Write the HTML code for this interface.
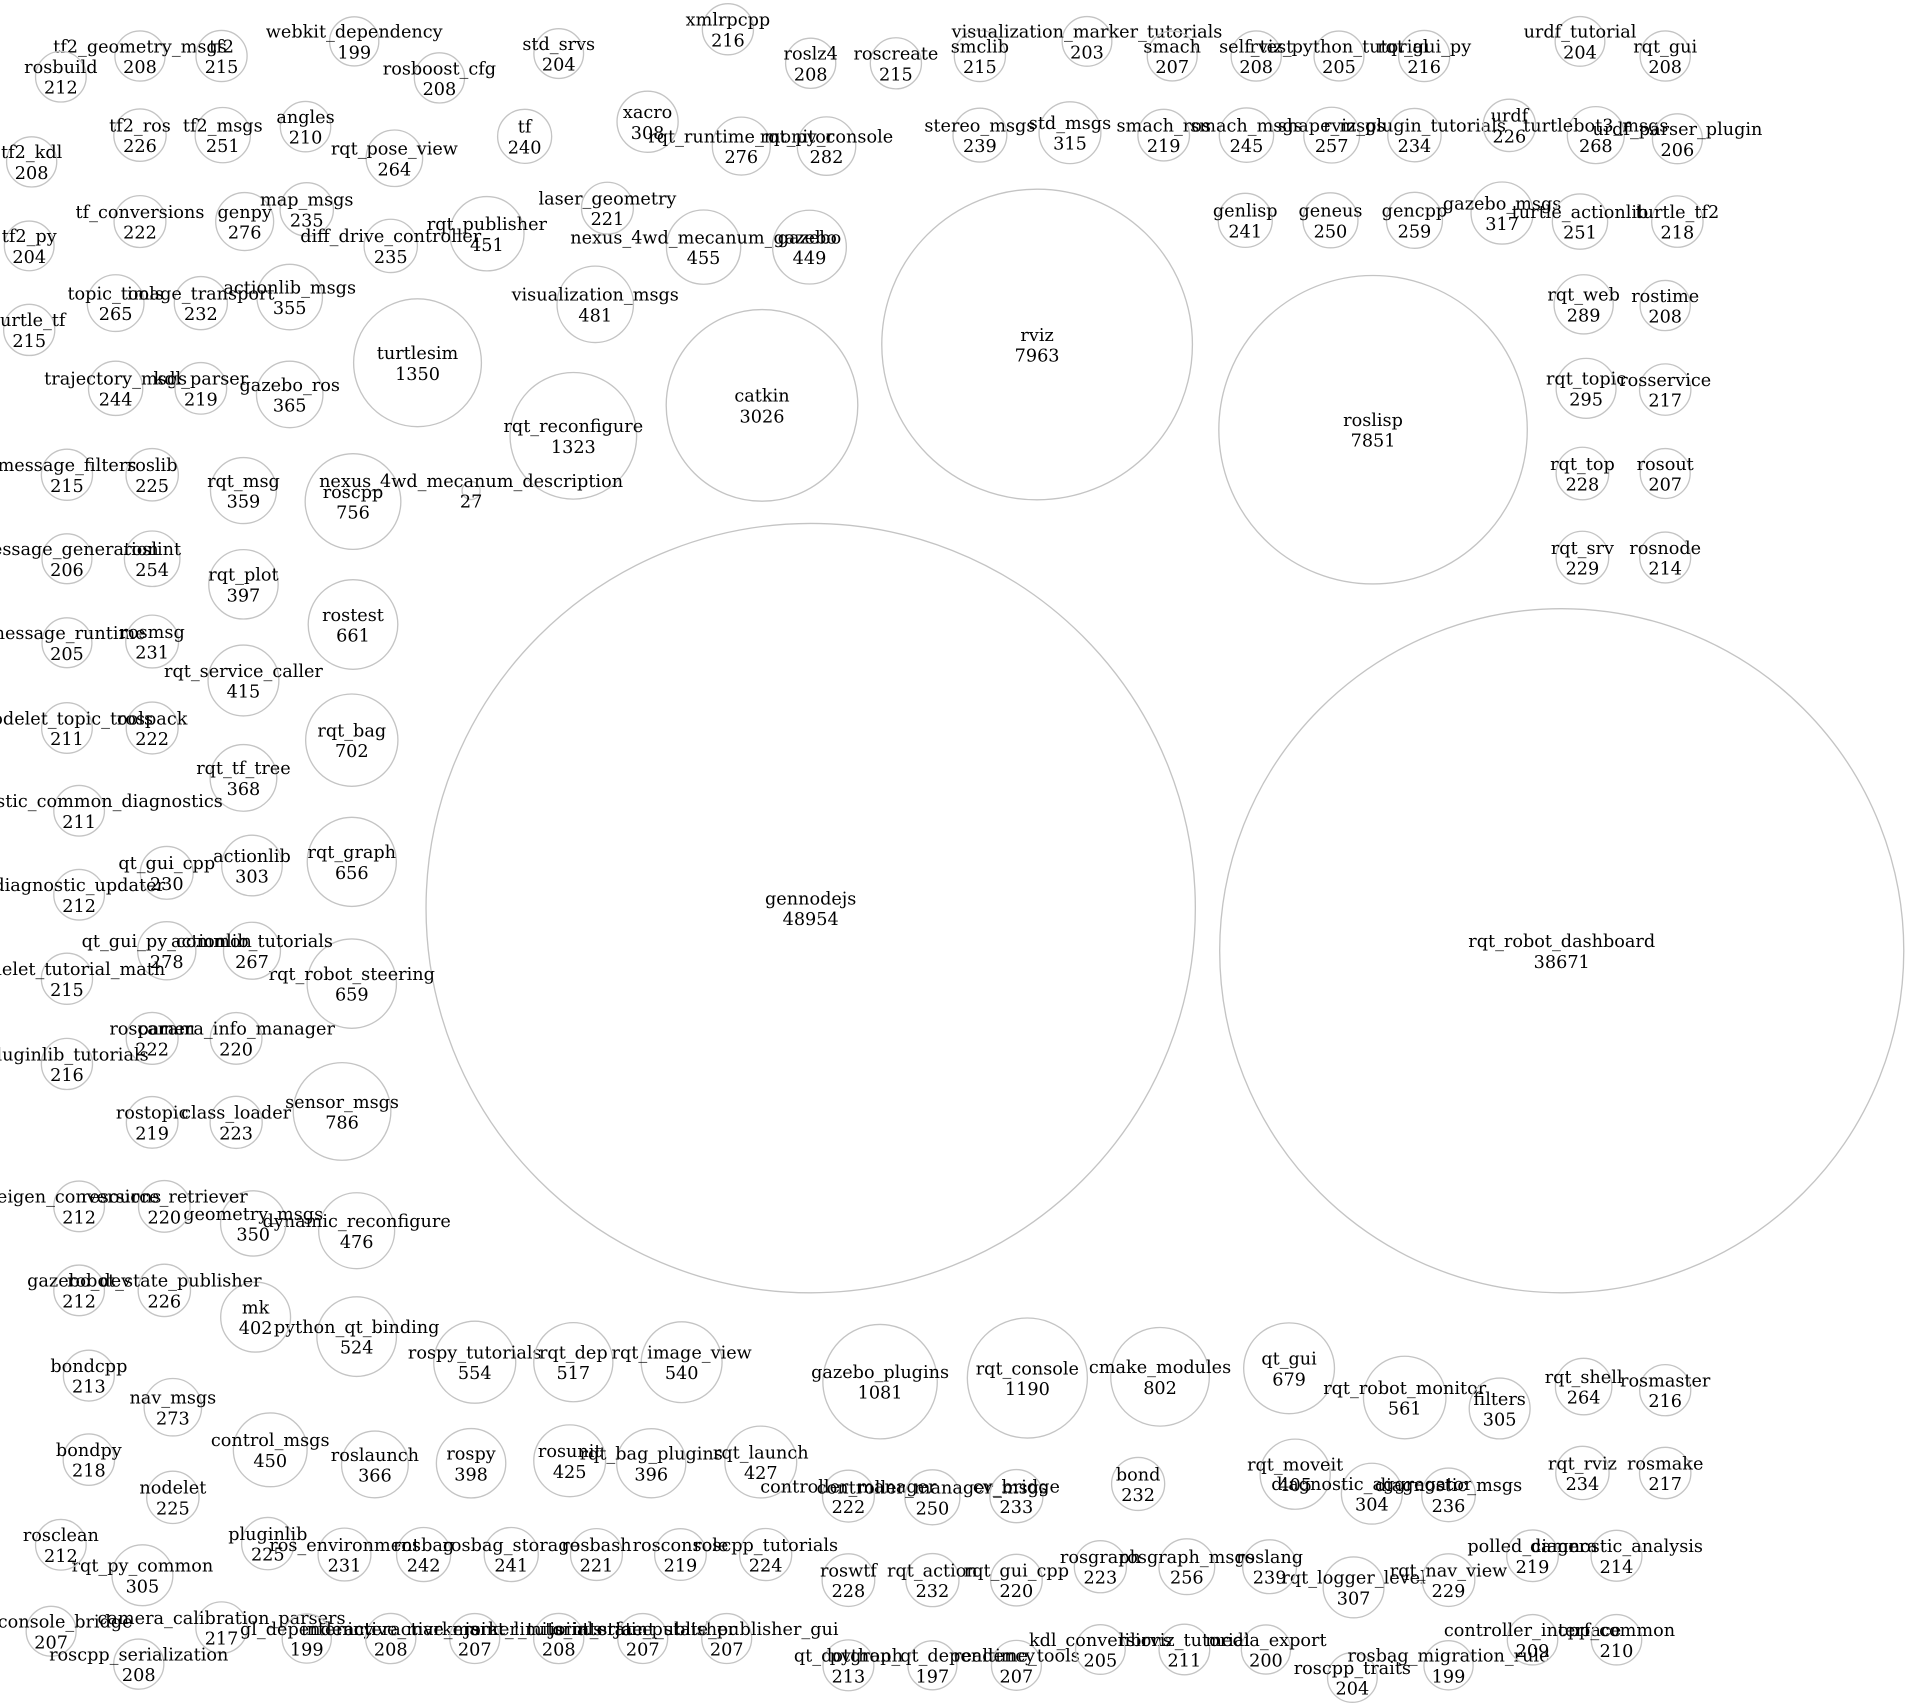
<!DOCTYPE html>
<html><head><meta charset="utf-8"><style>
html,body{margin:0;padding:0;background:#fff;}
svg{display:block;}
circle{fill:none;stroke:#c4c4c4;stroke-width:1.1;}
text{font-family:"DejaVu Serif","Liberation Serif",serif;font-size:14.5px;text-anchor:middle;fill:#000;}
</style></head><body>
<svg width="1905" height="1705" viewBox="0 0 1565 1400.6" preserveAspectRatio="none">
<rect x="0" y="0" width="1565" height="1401" fill="#fff"/>
<!-- big -->
<circle cx="666" cy="746" r="316"/><text x="666" y="743">gennodejs<tspan x="666" dy="17">48954</tspan></text>
<circle cx="1283" cy="781" r="281"/><text x="1283" y="778">rqt_robot_dashboard<tspan x="1283" dy="17">38671</tspan></text>
<circle cx="852" cy="283" r="127.6"/><text x="852" y="280">rviz<tspan x="852" dy="17">7963</tspan></text>
<circle cx="1128" cy="353" r="126.7"/><text x="1128" y="350">roslisp<tspan x="1128" dy="17">7851</tspan></text>
<circle cx="626" cy="333" r="78.7"/><text x="626" y="330">catkin<tspan x="626" dy="17">3026</tspan></text>
<circle cx="343" cy="298" r="52.5"/><text x="343" y="295">turtlesim<tspan x="343" dy="17">1350</tspan></text>
<circle cx="471" cy="358" r="52"/><text x="471" y="355">rqt_reconfigure<tspan x="471" dy="17">1323</tspan></text>
<circle cx="723" cy="1135" r="47"/><text x="723" y="1132">gazebo_plugins<tspan x="723" dy="17">1081</tspan></text>
<circle cx="844" cy="1132" r="49.3"/><text x="844" y="1129">rqt_console<tspan x="844" dy="17">1190</tspan></text>
<circle cx="953" cy="1131" r="40.5"/><text x="953" y="1128">cmake_modules<tspan x="953" dy="17">802</tspan></text>
<circle cx="1059" cy="1124" r="37.3"/><text x="1059" y="1121">qt_gui<tspan x="1059" dy="17">679</tspan></text>
<circle cx="1154" cy="1148" r="33.9"/><text x="1154" y="1145">rqt_robot_monitor<tspan x="1154" dy="17">561</tspan></text>
<circle cx="1232" cy="1157" r="25"/><text x="1232" y="1154">filters<tspan x="1232" dy="17">305</tspan></text>
<circle cx="290" cy="412" r="39.3"/><text x="290" y="409">roscpp<tspan x="290" dy="17">756</tspan></text>
<circle cx="387" cy="403" r="7.4"/><text x="387" y="400">nexus_4wd_mecanum_description<tspan x="387" dy="17">27</tspan></text>
<circle cx="290" cy="513" r="36.8"/><text x="290" y="510">rostest<tspan x="290" dy="17">661</tspan></text>
<circle cx="289" cy="608" r="37.9"/><text x="289" y="605">rqt_bag<tspan x="289" dy="17">702</tspan></text>
<circle cx="289" cy="708" r="36.6"/><text x="289" y="705">rqt_graph<tspan x="289" dy="17">656</tspan></text>
<circle cx="289" cy="808" r="36.7"/><text x="289" y="805">rqt_robot_steering<tspan x="289" dy="17">659</tspan></text>
<circle cx="281" cy="913" r="40.1"/><text x="281" y="910">sensor_msgs<tspan x="281" dy="17">786</tspan></text>
<circle cx="293" cy="1011" r="31.2"/><text x="293" y="1008">dynamic_reconfigure<tspan x="293" dy="17">476</tspan></text>
<circle cx="293" cy="1098" r="32.7"/><text x="293" y="1095">python_qt_binding<tspan x="293" dy="17">524</tspan></text>
<circle cx="390" cy="1119" r="33.7"/><text x="390" y="1116">rospy_tutorials<tspan x="390" dy="17">554</tspan></text>
<circle cx="471" cy="1119" r="32.5"/><text x="471" y="1116">rqt_dep<tspan x="471" dy="17">517</tspan></text>
<circle cx="560" cy="1119" r="33.2"/><text x="560" y="1116">rqt_image_view<tspan x="560" dy="17">540</tspan></text>
<circle cx="489" cy="250" r="31.4"/><text x="489" y="247">visualization_msgs<tspan x="489" dy="17">481</tspan></text>
<circle cx="400" cy="192" r="30.5"/><text x="400" y="189">rqt_publisher<tspan x="400" dy="17">451</tspan></text>
<circle cx="578" cy="203" r="30.5"/><text x="578" y="200">nexus_4wd_mecanum_gazebo<tspan x="578" dy="17">455</tspan></text>
<circle cx="665" cy="203" r="30.3"/><text x="665" y="200">gazebo<tspan x="665" dy="17">449</tspan></text>
<circle cx="532" cy="100" r="25.1"/><text x="532" y="97">xacro<tspan x="532" dy="17">308</tspan></text>
<circle cx="609" cy="120" r="23.8"/><text x="609" y="117">rqt_runtime_monitor<tspan x="609" dy="17">276</tspan></text>
<circle cx="679" cy="120" r="24"/><text x="679" y="117">rqt_py_console<tspan x="679" dy="17">282</tspan></text>
<circle cx="238" cy="244" r="26.9"/><text x="238" y="241">actionlib_msgs<tspan x="238" dy="17">355</tspan></text>
<circle cx="238" cy="324" r="27.3"/><text x="238" y="321">gazebo_ros<tspan x="238" dy="17">365</tspan></text>
<circle cx="200" cy="403" r="27.1"/><text x="200" y="400">rqt_msg<tspan x="200" dy="17">359</tspan></text>
<circle cx="200" cy="480" r="28.5"/><text x="200" y="477">rqt_plot<tspan x="200" dy="17">397</tspan></text>
<circle cx="200" cy="559" r="29.1"/><text x="200" y="556">rqt_service_caller<tspan x="200" dy="17">415</tspan></text>
<circle cx="200" cy="639" r="27.4"/><text x="200" y="636">rqt_tf_tree<tspan x="200" dy="17">368</tspan></text>
<circle cx="207" cy="711" r="24.9"/><text x="207" y="708">actionlib<tspan x="207" dy="17">303</tspan></text>
<circle cx="207" cy="781" r="23.4"/><text x="207" y="778">actionlib_tutorials<tspan x="207" dy="17">267</tspan></text>
<circle cx="208" cy="1005" r="26.8"/><text x="208" y="1002">geometry_msgs<tspan x="208" dy="17">350</tspan></text>
<circle cx="210" cy="1082" r="28.7"/><text x="210" y="1079">mk<tspan x="210" dy="17">402</tspan></text>
<circle cx="222" cy="1191" r="30.3"/><text x="222" y="1188">control_msgs<tspan x="222" dy="17">450</tspan></text>
<circle cx="308" cy="1203" r="27.4"/><text x="308" y="1200">roslaunch<tspan x="308" dy="17">366</tspan></text>
<circle cx="387" cy="1202" r="28.5"/><text x="387" y="1199">rospy<tspan x="387" dy="17">398</tspan></text>
<circle cx="468" cy="1200" r="29.5"/><text x="468" y="1197">rosunit<tspan x="468" dy="17">425</tspan></text>
<circle cx="535" cy="1202" r="28.4"/><text x="535" y="1199">rqt_bag_plugins<tspan x="535" dy="17">396</tspan></text>
<circle cx="625" cy="1201" r="29.5"/><text x="625" y="1198">rqt_launch<tspan x="625" dy="17">427</tspan></text>
<circle cx="1064" cy="1211" r="28.8"/><text x="1064" y="1208">rqt_moveit<tspan x="1064" dy="17">405</tspan></text>
<circle cx="1127" cy="1227" r="25"/><text x="1127" y="1224">diagnostic_aggregator<tspan x="1127" dy="17">304</tspan></text>
<circle cx="1112" cy="1304" r="25"/><text x="1112" y="1301">rqt_logger_level<tspan x="1112" dy="17">307</tspan></text>
<circle cx="117" cy="1294" r="25"/><text x="117" y="1291">rqt_py_common<tspan x="117" dy="17">305</tspan></text>
<circle cx="879" cy="109" r="25.4"/><text x="879" y="106">std_msgs<tspan x="879" dy="17">315</tspan></text>
<circle cx="1234" cy="175" r="25.5"/><text x="1234" y="172">gazebo_msgs<tspan x="1234" dy="17">317</tspan></text>
<circle cx="1301" cy="250" r="24.3"/><text x="1301" y="247">rqt_web<tspan x="1301" dy="17">289</tspan></text>
<circle cx="1303" cy="319" r="24.6"/><text x="1303" y="316">rqt_topic<tspan x="1303" dy="17">295</tspan></text>
<!-- small -->
<circle cx="115" cy="46" r="20.6"/><text x="115" y="43">tf2_geometry_msgs<tspan x="115" dy="17">208</tspan></text>
<circle cx="182" cy="46" r="21"/><text x="182" y="43">tf2<tspan x="182" dy="17">215</tspan></text>
<circle cx="50" cy="63" r="20.8"/><text x="50" y="60">rosbuild<tspan x="50" dy="17">212</tspan></text>
<circle cx="291" cy="34" r="20.2"/><text x="291" y="31">webkit_dependency<tspan x="291" dy="17">199</tspan></text>
<circle cx="361" cy="64" r="20.6"/><text x="361" y="61">rosboost_cfg<tspan x="361" dy="17">208</tspan></text>
<circle cx="459" cy="44" r="20.4"/><text x="459" y="41">std_srvs<tspan x="459" dy="17">204</tspan></text>
<circle cx="598" cy="24" r="21"/><text x="598" y="21">xmlrpcpp<tspan x="598" dy="17">216</tspan></text>
<circle cx="666" cy="52" r="20.6"/><text x="666" y="49">roslz4<tspan x="666" dy="17">208</tspan></text>
<circle cx="736" cy="52" r="21"/><text x="736" y="49">roscreate<tspan x="736" dy="17">215</tspan></text>
<circle cx="805" cy="46" r="21"/><text x="805" y="43">smclib<tspan x="805" dy="17">215</tspan></text>
<circle cx="893" cy="34" r="20.4"/><text x="893" y="31">visualization_marker_tutorials<tspan x="893" dy="17">203</tspan></text>
<circle cx="963" cy="46" r="20.5"/><text x="963" y="43">smach<tspan x="963" dy="17">207</tspan></text>
<circle cx="1032" cy="46" r="20.6"/><text x="1032" y="43">self_test<tspan x="1032" dy="17">208</tspan></text>
<circle cx="1100" cy="46" r="20.5"/><text x="1100" y="43">rviz_python_tutorial<tspan x="1100" dy="17">205</tspan></text>
<circle cx="1170" cy="46" r="21"/><text x="1170" y="43">rqt_gui_py<tspan x="1170" dy="17">216</tspan></text>
<circle cx="1298" cy="34" r="20.4"/><text x="1298" y="31">urdf_tutorial<tspan x="1298" dy="17">204</tspan></text>
<circle cx="1368" cy="46" r="20.6"/><text x="1368" y="43">rqt_gui<tspan x="1368" dy="17">208</tspan></text>
<circle cx="26" cy="133" r="20.6"/><text x="26" y="130">tf2_kdl<tspan x="26" dy="17">208</tspan></text>
<circle cx="115" cy="111" r="21.5"/><text x="115" y="108">tf2_ros<tspan x="115" dy="17">226</tspan></text>
<circle cx="183" cy="111" r="22.7"/><text x="183" y="108">tf2_msgs<tspan x="183" dy="17">251</tspan></text>
<circle cx="251" cy="104" r="20.7"/><text x="251" y="101">angles<tspan x="251" dy="17">210</tspan></text>
<circle cx="324" cy="130" r="23.2"/><text x="324" y="127">rqt_pose_view<tspan x="324" dy="17">264</tspan></text>
<circle cx="431" cy="112" r="22.2"/><text x="431" y="109">tf<tspan x="431" dy="17">240</tspan></text>
<circle cx="805" cy="111" r="22.1"/><text x="805" y="108">stereo_msgs<tspan x="805" dy="17">239</tspan></text>
<circle cx="956" cy="111" r="21.2"/><text x="956" y="108">smach_ros<tspan x="956" dy="17">219</tspan></text>
<circle cx="1024" cy="111" r="22.3"/><text x="1024" y="108">smach_msgs<tspan x="1024" dy="17">245</tspan></text>
<circle cx="1094" cy="111" r="22.9"/><text x="1094" y="108">shape_msgs<tspan x="1094" dy="17">257</tspan></text>
<circle cx="1162" cy="111" r="21.9"/><text x="1162" y="108">rviz_plugin_tutorials<tspan x="1162" dy="17">234</tspan></text>
<circle cx="1240" cy="103" r="21.5"/><text x="1240" y="100">urdf<tspan x="1240" dy="17">226</tspan></text>
<circle cx="1311" cy="111" r="23.4"/><text x="1311" y="108">turtlebot3_msgs<tspan x="1311" dy="17">268</tspan></text>
<circle cx="1378" cy="114" r="20.5"/><text x="1378" y="111">urdf_parser_plugin<tspan x="1378" dy="17">206</tspan></text>
<circle cx="24" cy="202" r="20.4"/><text x="24" y="199">tf2_py<tspan x="24" dy="17">204</tspan></text>
<circle cx="115" cy="182" r="21.3"/><text x="115" y="179">tf_conversions<tspan x="115" dy="17">222</tspan></text>
<circle cx="201" cy="182" r="23.8"/><text x="201" y="179">genpy<tspan x="201" dy="17">276</tspan></text>
<circle cx="252" cy="172" r="21.9"/><text x="252" y="169">map_msgs<tspan x="252" dy="17">235</tspan></text>
<circle cx="321" cy="202" r="21.9"/><text x="321" y="199">diff_drive_controller<tspan x="321" dy="17">235</tspan></text>
<circle cx="499" cy="171" r="21.3"/><text x="499" y="168">laser_geometry<tspan x="499" dy="17">221</tspan></text>
<circle cx="1023" cy="181" r="22.2"/><text x="1023" y="178">genlisp<tspan x="1023" dy="17">241</tspan></text>
<circle cx="1093" cy="181" r="22.6"/><text x="1093" y="178">geneus<tspan x="1093" dy="17">250</tspan></text>
<circle cx="1162" cy="181" r="23"/><text x="1162" y="178">gencpp<tspan x="1162" dy="17">259</tspan></text>
<circle cx="1298" cy="182" r="22.7"/><text x="1298" y="179">turtle_actionlib<tspan x="1298" dy="17">251</tspan></text>
<circle cx="1378" cy="182" r="21.1"/><text x="1378" y="179">turtle_tf2<tspan x="1378" dy="17">218</tspan></text>
<circle cx="24" cy="271" r="21"/><text x="24" y="268">turtle_tf<tspan x="24" dy="17">215</tspan></text>
<circle cx="95" cy="249" r="23.3"/><text x="95" y="246">topic_tools<tspan x="95" dy="17">265</tspan></text>
<circle cx="165" cy="249" r="21.8"/><text x="165" y="246">image_transport<tspan x="165" dy="17">232</tspan></text>
<circle cx="1368" cy="251" r="20.6"/><text x="1368" y="248">rostime<tspan x="1368" dy="17">208</tspan></text>
<circle cx="95" cy="319" r="22.3"/><text x="95" y="316">trajectory_msgs<tspan x="95" dy="17">244</tspan></text>
<circle cx="165" cy="319" r="21.2"/><text x="165" y="316">kdl_parser<tspan x="165" dy="17">219</tspan></text>
<circle cx="1368" cy="320" r="21.1"/><text x="1368" y="317">rosservice<tspan x="1368" dy="17">217</tspan></text>
<circle cx="55" cy="390" r="21"/><text x="55" y="387">message_filters<tspan x="55" dy="17">215</tspan></text>
<circle cx="125" cy="390" r="21.5"/><text x="125" y="387">roslib<tspan x="125" dy="17">225</tspan></text>
<circle cx="1300" cy="389" r="21.6"/><text x="1300" y="386">rqt_top<tspan x="1300" dy="17">228</tspan></text>
<circle cx="1368" cy="389" r="20.5"/><text x="1368" y="386">rosout<tspan x="1368" dy="17">207</tspan></text>
<circle cx="55" cy="459" r="20.5"/><text x="55" y="456">message_generation<tspan x="55" dy="17">206</tspan></text>
<circle cx="125" cy="459" r="22.8"/><text x="125" y="456">roslint<tspan x="125" dy="17">254</tspan></text>
<circle cx="1300" cy="458" r="21.6"/><text x="1300" y="455">rqt_srv<tspan x="1300" dy="17">229</tspan></text>
<circle cx="1368" cy="458" r="20.9"/><text x="1368" y="455">rosnode<tspan x="1368" dy="17">214</tspan></text>
<circle cx="55" cy="528" r="20.5"/><text x="55" y="525">message_runtime<tspan x="55" dy="17">205</tspan></text>
<circle cx="125" cy="527" r="21.7"/><text x="125" y="524">rosmsg<tspan x="125" dy="17">231</tspan></text>
<circle cx="55" cy="598" r="20.8"/><text x="55" y="595">nodelet_topic_tools<tspan x="55" dy="17">211</tspan></text>
<circle cx="125" cy="598" r="21.3"/><text x="125" y="595">rospack<tspan x="125" dy="17">222</tspan></text>
<circle cx="65" cy="666" r="20.8"/><text x="65" y="663">diagnostic_common_diagnostics<tspan x="65" dy="17">211</tspan></text>
<circle cx="137" cy="717" r="21.7"/><text x="137" y="714">qt_gui_cpp<tspan x="137" dy="17">230</tspan></text>
<circle cx="65" cy="735" r="20.8"/><text x="65" y="732">diagnostic_updater<tspan x="65" dy="17">212</tspan></text>
<circle cx="137" cy="781" r="23.9"/><text x="137" y="778">qt_gui_py_common<tspan x="137" dy="17">278</tspan></text>
<circle cx="55" cy="804" r="21"/><text x="55" y="801">nodelet_tutorial_math<tspan x="55" dy="17">215</tspan></text>
<circle cx="125" cy="853" r="21.3"/><text x="125" y="850">rosparam<tspan x="125" dy="17">222</tspan></text>
<circle cx="194" cy="853" r="21.2"/><text x="194" y="850">camera_info_manager<tspan x="194" dy="17">220</tspan></text>
<circle cx="55" cy="874" r="21"/><text x="55" y="871">pluginlib_tutorials<tspan x="55" dy="17">216</tspan></text>
<circle cx="125" cy="922" r="21.2"/><text x="125" y="919">rostopic<tspan x="125" dy="17">219</tspan></text>
<circle cx="194" cy="922" r="21.4"/><text x="194" y="919">class_loader<tspan x="194" dy="17">223</tspan></text>
<circle cx="65" cy="991" r="20.8"/><text x="65" y="988">eigen_conversions<tspan x="65" dy="17">212</tspan></text>
<circle cx="135" cy="991" r="21.2"/><text x="135" y="988">resource_retriever<tspan x="135" dy="17">220</tspan></text>
<circle cx="65" cy="1060" r="20.8"/><text x="65" y="1057">gazebo_dev<tspan x="65" dy="17">212</tspan></text>
<circle cx="135" cy="1060" r="21.5"/><text x="135" y="1057">robot_state_publisher<tspan x="135" dy="17">226</tspan></text>
<circle cx="73" cy="1130" r="20.9"/><text x="73" y="1127">bondcpp<tspan x="73" dy="17">213</tspan></text>
<circle cx="142" cy="1156" r="23.6"/><text x="142" y="1153">nav_msgs<tspan x="142" dy="17">273</tspan></text>
<circle cx="1301" cy="1139" r="23.2"/><text x="1301" y="1136">rqt_shell<tspan x="1301" dy="17">264</tspan></text>
<circle cx="1368" cy="1142" r="21"/><text x="1368" y="1139">rosmaster<tspan x="1368" dy="17">216</tspan></text>
<circle cx="73" cy="1199" r="21.1"/><text x="73" y="1196">bondpy<tspan x="73" dy="17">218</tspan></text>
<circle cx="935" cy="1219" r="21.8"/><text x="935" y="1216">bond<tspan x="935" dy="17">232</tspan></text>
<circle cx="1300" cy="1210" r="21.9"/><text x="1300" y="1207">rqt_rviz<tspan x="1300" dy="17">234</tspan></text>
<circle cx="1368" cy="1210" r="21.1"/><text x="1368" y="1207">rosmake<tspan x="1368" dy="17">217</tspan></text>
<circle cx="142" cy="1230" r="21.5"/><text x="142" y="1227">nodelet<tspan x="142" dy="17">225</tspan></text>
<circle cx="697" cy="1229" r="21.3"/><text x="697" y="1226">controller_manager<tspan x="697" dy="17">222</tspan></text>
<circle cx="766" cy="1230" r="22.6"/><text x="766" y="1227">controller_manager_msgs<tspan x="766" dy="17">250</tspan></text>
<circle cx="835" cy="1229" r="21.8"/><text x="835" y="1226">cv_bridge<tspan x="835" dy="17">233</tspan></text>
<circle cx="1190" cy="1228" r="22"/><text x="1190" y="1225">diagnostic_msgs<tspan x="1190" dy="17">236</tspan></text>
<circle cx="50" cy="1269" r="20.8"/><text x="50" y="1266">rosclean<tspan x="50" dy="17">212</tspan></text>
<circle cx="220" cy="1268" r="21.5"/><text x="220" y="1265">pluginlib<tspan x="220" dy="17">225</tspan></text>
<circle cx="283" cy="1277" r="21.7"/><text x="283" y="1274">ros_environment<tspan x="283" dy="17">231</tspan></text>
<circle cx="348" cy="1277" r="22.2"/><text x="348" y="1274">rosbag<tspan x="348" dy="17">242</tspan></text>
<circle cx="420" cy="1277" r="22.2"/><text x="420" y="1274">rosbag_storage<tspan x="420" dy="17">241</tspan></text>
<circle cx="490" cy="1277" r="21.3"/><text x="490" y="1274">rosbash<tspan x="490" dy="17">221</tspan></text>
<circle cx="559" cy="1277" r="21.2"/><text x="559" y="1274">rosconsole<tspan x="559" dy="17">219</tspan></text>
<circle cx="629" cy="1277" r="21.4"/><text x="629" y="1274">roscpp_tutorials<tspan x="629" dy="17">224</tspan></text>
<circle cx="904" cy="1287" r="21.4"/><text x="904" y="1284">rosgraph<tspan x="904" dy="17">223</tspan></text>
<circle cx="975" cy="1287" r="22.9"/><text x="975" y="1284">rosgraph_msgs<tspan x="975" dy="17">256</tspan></text>
<circle cx="1043" cy="1287" r="22.1"/><text x="1043" y="1284">roslang<tspan x="1043" dy="17">239</tspan></text>
<circle cx="1259" cy="1278" r="21.2"/><text x="1259" y="1275">polled_camera<tspan x="1259" dy="17">219</tspan></text>
<circle cx="1328" cy="1278" r="20.9"/><text x="1328" y="1275">diagnostic_analysis<tspan x="1328" dy="17">214</tspan></text>
<circle cx="697" cy="1298" r="21.6"/><text x="697" y="1295">roswtf<tspan x="697" dy="17">228</tspan></text>
<circle cx="766" cy="1298" r="21.8"/><text x="766" y="1295">rqt_action<tspan x="766" dy="17">232</tspan></text>
<circle cx="835" cy="1298" r="21.2"/><text x="835" y="1295">rqt_gui_cpp<tspan x="835" dy="17">220</tspan></text>
<circle cx="1190" cy="1298" r="21.6"/><text x="1190" y="1295">rqt_nav_view<tspan x="1190" dy="17">229</tspan></text>
<circle cx="42" cy="1340" r="20.5"/><text x="42" y="1337">rosconsole_bridge<tspan x="42" dy="17">207</tspan></text>
<circle cx="182" cy="1337" r="21.1"/><text x="182" y="1334">camera_calibration_parsers<tspan x="182" dy="17">217</tspan></text>
<circle cx="252" cy="1346" r="20.2"/><text x="252" y="1343">gl_dependency<tspan x="252" dy="17">199</tspan></text>
<circle cx="321" cy="1346" r="20.6"/><text x="321" y="1343">interactive_markers<tspan x="321" dy="17">208</tspan></text>
<circle cx="390" cy="1346" r="20.5"/><text x="390" y="1343">interactive_marker_tutorials<tspan x="390" dy="17">207</tspan></text>
<circle cx="459" cy="1346" r="20.6"/><text x="459" y="1343">joint_limits_interface<tspan x="459" dy="17">208</tspan></text>
<circle cx="528" cy="1346" r="20.5"/><text x="528" y="1343">joint_state_publisher<tspan x="528" dy="17">207</tspan></text>
<circle cx="597" cy="1346" r="20.5"/><text x="597" y="1343">joint_state_publisher_gui<tspan x="597" dy="17">207</tspan></text>
<circle cx="114" cy="1367" r="20.6"/><text x="114" y="1364">roscpp_serialization<tspan x="114" dy="17">208</tspan></text>
<circle cx="697" cy="1368" r="20.9"/><text x="697" y="1365">qt_dotgraph<tspan x="697" dy="17">213</tspan></text>
<circle cx="766" cy="1368" r="20.1"/><text x="766" y="1365">python_qt_dependency<tspan x="766" dy="17">197</tspan></text>
<circle cx="835" cy="1368" r="20.5"/><text x="835" y="1365">realtime_tools<tspan x="835" dy="17">207</tspan></text>
<circle cx="904" cy="1355" r="20.4"/><text x="904" y="1352">kdl_conversions<tspan x="904" dy="17">205</tspan></text>
<circle cx="973" cy="1355" r="20.8"/><text x="973" y="1352">librviz_tutorial<tspan x="973" dy="17">211</tspan></text>
<circle cx="1040" cy="1355" r="20.2"/><text x="1040" y="1352">media_export<tspan x="1040" dy="17">200</tspan></text>
<circle cx="1111" cy="1378" r="20.4"/><text x="1111" y="1375">roscpp_traits<tspan x="1111" dy="17">204</tspan></text>
<circle cx="1190" cy="1368" r="20.2"/><text x="1190" y="1365">rosbag_migration_rule<tspan x="1190" dy="17">199</tspan></text>
<circle cx="1259" cy="1347" r="20.7"/><text x="1259" y="1344">controller_interface<tspan x="1259" dy="17">209</tspan></text>
<circle cx="1328" cy="1347" r="20.7"/><text x="1328" y="1344">cpp_common<tspan x="1328" dy="17">210</tspan></text>
</svg>
</body></html>
